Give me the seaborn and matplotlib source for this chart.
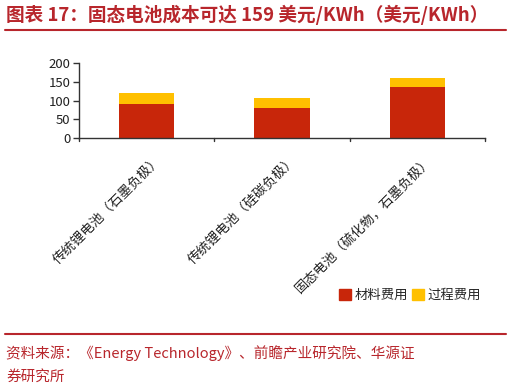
import matplotlib
matplotlib.use("Agg")
import matplotlib.pyplot as plt
import matplotlib.transforms as mtransforms
import seaborn as sns
import pandas as pd
from matplotlib.patches import Patch

categories = ["传统锂电池（石墨负极）", "传统锂电池（硅碳负极）", "固态电池（硫化物，石墨负极）"]
material = [90, 80, 135]
process = [30, 28, 24]
yticks = [0, 50, 100, 150, 200]

sns.set_theme(style="white")
plt.rcParams['font.family'] = ['Noto Sans CJK SC', 'DejaVu Sans']

RED = "#C8260A"
YEL = "#FFC000"
TRED = "#B8262C"

df = pd.DataFrame({"cat": categories, "material": material,
                   "total": [m + p for m, p in zip(material, process)]})

fig = plt.figure(figsize=(5.11, 3.89), dpi=100)
ax = fig.add_axes([0.1546, 0.6445, 0.7945, 0.1935])

sns.barplot(data=df, x="cat", y="total", color=YEL, width=0.41, ax=ax,
            saturation=1, linewidth=0, edgecolor="none")
sns.barplot(data=df, x="cat", y="material", color=RED, width=0.41, ax=ax,
            saturation=1, linewidth=0, edgecolor="none")

ax.set_ylim(0, 200)
ax.set_xlim(-0.5, 2.5)
ax.set_yticks(yticks)
ax.set_yticklabels([str(v) for v in yticks], fontsize=9.5, color="#222222")
ax.set_xlabel("")
ax.set_ylabel("")
ax.set_xticks([0, 1, 2])
ax.set_xticklabels(categories, rotation=45, ha="right", rotation_mode="anchor",
                   fontsize=9.6, color="#222222")
ax.tick_params(axis="x", length=0, pad=11)
offset = mtransforms.ScaledTranslation(8 / 100, 0, fig.dpi_scale_trans)
for lab in ax.get_xticklabels():
    lab.set_transform(lab.get_transform() + offset)
for xb in [-0.5, 0.5, 1.5, 2.5]:
    ax.plot([xb, xb], [0, -8], color="#333333", lw=1, clip_on=False)
ax.tick_params(axis="y", direction="out", length=4, width=1, color="#333333", left=True, pad=2)
for s in ["top", "right"]:
    ax.spines[s].set_visible(False)
for s in ["left", "bottom"]:
    ax.spines[s].set_color("#333333")
    ax.spines[s].set_linewidth(1)

handles = [Patch(color=RED, label="材料费用"), Patch(color=YEL, label="过程费用")]
fig.legend(handles=handles, loc="center right", bbox_to_anchor=(0.952, 0.241), ncol=2,
           frameon=False, fontsize=9.6, handlelength=0.85, handleheight=0.85,
           handletextpad=0.3, columnspacing=0.3, borderaxespad=0)

fig.text(0.012, 0.962, "图表 17：固态电池成本可达 159 美元/KWh（美元/KWh）",
         fontsize=13.4, fontweight="bold", color=TRED, va="center", ha="left")
fig.add_artist(plt.Line2D([0.01, 0.99], [0.923, 0.923], color=TRED, lw=1.5))
fig.add_artist(plt.Line2D([0.01, 0.99], [0.142, 0.142], color=TRED, lw=1.5))
fig.text(0.012, 0.092, "资料来源：《Energy Technology》、前瞻产业研究院、华源证",
         fontsize=10.5, color=TRED, va="center", ha="left")
fig.text(0.012, 0.031, "券研究所", fontsize=10.5, color=TRED, va="center", ha="left")

fig.savefig("out.png", dpi=100)
